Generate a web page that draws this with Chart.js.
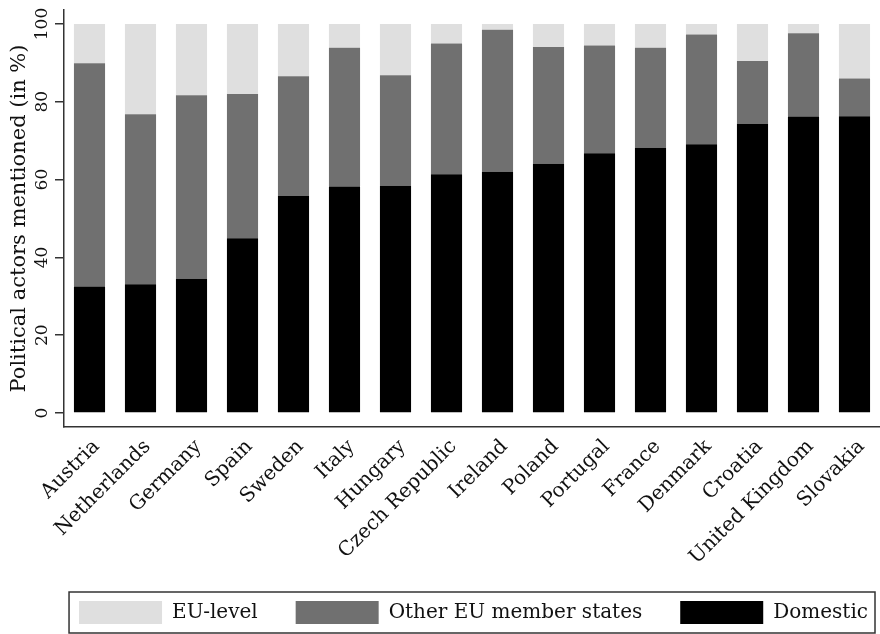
<!DOCTYPE html>
<html>
<head>
<meta charset="utf-8">
<script src="https://cdn.jsdelivr.net/npm/chart.js@4/dist/chart.umd.min.js"></script>
<style>
  html, body { margin: 0; padding: 0; background: #fff; }
  #wrap { width: 880px; height: 634px; position: relative; }
</style>
</head>
<body>
<div id="wrap"><canvas id="chart"></canvas></div>
<script>
// Countries, ordered by share of domestic actors
const countries = ['Austria', 'Netherlands', 'Germany', 'Spain', 'Sweden', 'Italy', 'Hungary',
    'Czech Republic', 'Ireland', 'Poland', 'Portugal', 'France', 'Denmark', 'Croatia',
    'United Kingdom', 'Slovakia'];

// Shares in %
const domestic = [32.5, 33.1, 34.5, 44.9, 55.8, 58.2, 58.4, 61.4, 62.0, 64.1, 66.8, 68.2, 69.1, 74.3, 76.2, 76.3];
const otherEU  = [57.4, 43.7, 47.2, 37.1, 30.8, 35.7, 28.4, 33.6, 36.5, 30.0, 27.7, 25.7, 28.2, 16.2, 21.4, 9.7];
const euLevel  = [10.1, 23.2, 18.3, 18.0, 13.4, 6.1, 13.2, 5.0, 1.5, 5.9, 5.5, 6.1, 2.7, 9.5, 2.4, 14.0];

const yTicks = [0, 20, 40, 60, 80, 100];

const SERIF = "'DejaVu Serif', 'Liberation Serif', serif";
const AXIS = '#333';

// Stata-style frame round the legend keys, nudged a bit right
const legendFrame = {
    id: 'legendFrame',
    afterLayout(chart) {
        const lg = chart.legend;
        if (!lg) return;
        lg.left += 26;
        lg.right += 26;
    },
    afterDraw(chart) {
        const lg = chart.legend;
        if (!lg || !lg.legendHitBoxes.length) return;
        const boxes = lg.legendHitBoxes;
        const left = Math.min(...boxes.map(b => b.left)) - 10;
        const right = Math.max(...boxes.map(b => b.left + b.width)) + 7;
        const top = Math.min(...boxes.map(b => b.top)) - 9;
        const ctx = chart.ctx;
        ctx.save();
        ctx.strokeStyle = AXIS;
        ctx.lineWidth = 1.5;
        ctx.strokeRect(left, top, right - left, chart.height - 1 - top);
        ctx.restore();
    }
};

new Chart(document.getElementById('chart'), {
    type: 'bar',
    data: {
        labels: countries,
        datasets: [
            { label: 'Domestic', data: domestic, backgroundColor: '#000000' },
            { label: 'Other EU member states', data: otherEU, backgroundColor: '#707070' },
            { label: 'EU-level', data: euLevel, backgroundColor: '#dfdfdf' },
        ]
    },
    options: {
        responsive: true,
        maintainAspectRatio: false,
        animation: false,
        datasets: { bar: { categoryPercentage: 1, barPercentage: 0.61, borderWidth: 0 } },
        layout: { padding: { top: 10, right: 0, bottom: 0, left: 0 } },
        plugins: {
            tooltip: { enabled: false },
            legend: {
                position: 'bottom',
                align: 'end',
                reverse: true,
                labels: {
                    boxWidth: 83,
                    boxHeight: 23,
                    padding: 38,
                    color: '#111',
                    font: { family: SERIF, size: 20 }
                }
            }
        },
        scales: {
            x: {
                stacked: true,
                grid: { display: false },
                border: { display: true, color: AXIS, width: 1.5 },
                ticks: {
                    minRotation: 45, maxRotation: 45,
                    padding: 0,
                    labelOffset: 7,
                    color: '#111',
                    font: { family: SERIF, size: 20 }
                },
                afterFit(scale) { scale.height = 136; }
            },
            y: {
                stacked: true,
                min: -3.6,
                max: 103.6,
                afterBuildTicks(scale) { scale.ticks = yTicks.map(v => ({ value: v })); },
                grid: { drawOnChartArea: false, drawTicks: true, tickLength: 9, color: AXIS, lineWidth: 1.5 },
                border: { display: true, color: AXIS, width: 1.5 },
                ticks: {
                    minRotation: 90, maxRotation: 90,
                    crossAlign: 'center',
                    padding: -4,
                    color: '#111',
                    font: { family: SERIF, size: 17 }
                },
                title: {
                    display: true,
                    text: 'Political actors mentioned (in %)',
                    color: '#111',
                    font: { family: SERIF, size: 21 },
                    padding: { top: 7, bottom: 0 }
                },
                afterFit(scale) { scale.width = 64; }
            }
        }
    },
    plugins: [legendFrame]
});
</script>
</body>
</html>
